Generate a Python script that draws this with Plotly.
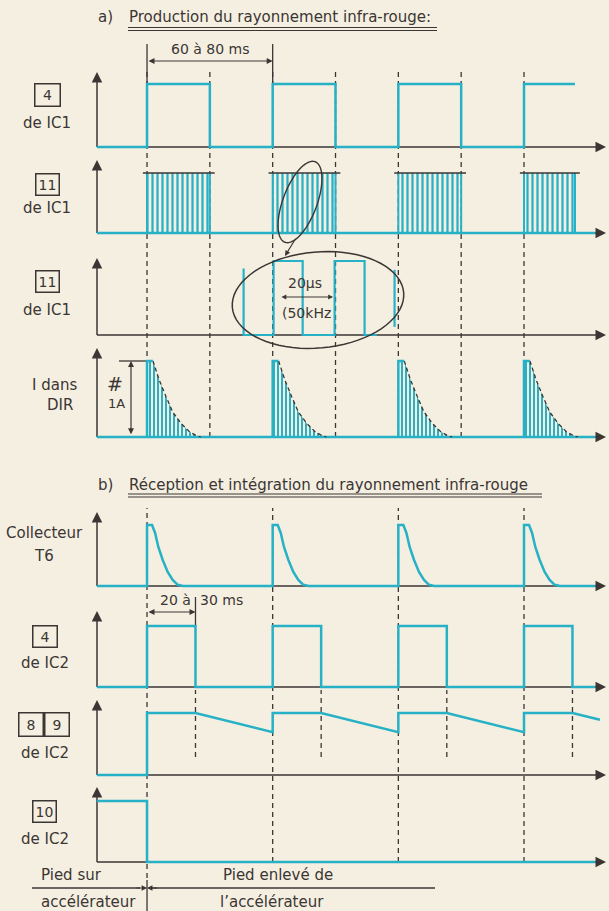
import numpy as np
import plotly.graph_objects as go

W, H = 609, 911
FOND = '#f5efe1'
CYAN = '#27b1c6'
ENCRE = '#3b3634'
POLICE = 'DejaVu Sans, Verdana, sans-serif'

# base de temps en ms (front montant de la broche 4 de IC1)
montees_ic1 = [0, 70, 140, 210]
descentes_ic1 = [35, 105, 175]
fin_ic1 = 238.4
t_debut = -27.9
t_fin = 249.6

# broche 4 de IC2 (monostable 20 a 30 ms)
montees_ic2 = [0, 70, 140, 210]
descentes_ic2 = [27, 97, 167, 237]

# broches 8/9 de IC2 : niveau atteint apres la decharge
niveau_89_bas = [0.69, 0.69, 0.69, 0.89]
t_fin_89 = 252.3

# impulsion du collecteur de T6 (decalage ms, niveau)
t6_decal = [0, 0, 2.8, 4.5, 6.3, 8.7, 11.5, 14.3, 17.1, 20]
t6_niveau = [0, 1, 1, 0.87, 0.64, 0.43, 0.23, 0.10, 0.02, 0]

# courant dans la DIR (enveloppe)
dir_decal = [0, 0, 3.3, 6.8, 10.6, 14.3, 18.9, 23.6, 27.3, 30]
dir_enveloppe = [0, 1, 1, 0.75, 0.53, 0.33, 0.18, 0.07, 0.02, 0]

# loupe 50 kHz (positions de dessin sur l'axe des temps)
loupe_x = [53.8, 53.8, 70.5, 70.5, 86.7, 86.7, 104.5, 104.5, 121.2, 121.2, 128.0]
loupe_y = [0.9, 0, 0, 1, 1, 0, 0, 1, 1, 0, 0]
loupe_bout_x = [137.9, 137.9]
loupe_bout_y = [0.11, 0.88]

# lignes : (base, niveau haut, pointe de la fleche) en pixels
LIGNES = [(147, 84, 72), (233, 173, 160), (335, 261, 258), (437, 361, 348),
          (586, 525, 512), (687, 626, 611), (775, 713, 700), (862, 801, 787)]

X_AXE, X_FLECHE = 97, 606
XMIN, XMAX = -81.9, 257.35


def px_t(px):
    return XMIN + px / W * (XMAX - XMIN)


def X(px):
    return px / W


def Y(py):
    return 1 - py / H


def carre(montees, descentes, t0, t1):
    xs, ys = [t0], [0]
    fronts = sorted([(t, 1) for t in montees] + [(t, 0) for t in descentes])
    niv = 0
    for t, n in fronts:
        xs += [t, t]
        ys += [niv, n]
        niv = n
    xs.append(t1)
    ys.append(niv)
    return xs, ys


def yref(i):
    return 'y' if i == 0 else f'y{i + 1}'


fig = go.Figure()


def trace(x, y, ligne, couleur=CYAN, largeur=2.5, dash='solid', **kw):
    fig.add_trace(go.Scatter(x=x, y=y, xaxis='x', yaxis=yref(ligne), mode='lines',
                             line=dict(color=couleur, width=largeur, dash=dash),
                             hoverinfo='skip', **kw))


# ligne 1 : broche 4 de IC1
x1, y1 = carre(montees_ic1, descentes_ic1, t_debut, fin_ic1)
trace(x1, y1, 0)

# ligne 2 : salves 50 kHz
trace([t_debut, t_fin], [0, 0], 1)
fins_salves = descentes_ic1 + [fin_ic1]
for d, f in zip(montees_ic1, fins_salves):
    fig.add_trace(go.Scatter(x=[d, d, f, f, d], y=[0, 1, 1, 0, 0], xaxis='x', yaxis='y2',
                             mode='lines', line=dict(width=0), fill='toself',
                             fillcolor='rgba(0,0,0,0)',
                             fillpattern=dict(shape='|', size=5, solidity=0.45,
                                              fgcolor=CYAN, bgcolor='rgba(0,0,0,0)',
                                              fillmode='replace'),
                             hoverinfo='skip'))
    trace([d, d, None, f, f], [0, 1, None, 1, 0], 1, largeur=2)
    trace([d - 2.3, f + 2.7], [1, 1], 1, couleur=ENCRE, largeur=1.4)

# ligne 3 : loupe
trace(loupe_x, loupe_y, 2, largeur=2.2)
trace(loupe_bout_x, loupe_bout_y, 2, largeur=2.2)

# ligne 4 : courant dans la DIR
trace([t_debut, t_fin], [0, 0], 3)
for d in montees_ic1:
    xs = [d + o for o in dir_decal]
    fig.add_trace(go.Scatter(x=xs, y=dir_enveloppe, xaxis='x', yaxis='y4', mode='lines',
                             line=dict(width=0), fill='toself', fillcolor='rgba(0,0,0,0)',
                             fillpattern=dict(shape='|', size=4, solidity=0.5,
                                              fgcolor=CYAN, bgcolor='rgba(0,0,0,0)',
                                              fillmode='replace'),
                             hoverinfo='skip'))
    trace(xs[2:], dir_enveloppe[2:], 3, couleur=ENCRE, largeur=1.3, dash='4px,3px')
    trace(xs[:3], dir_enveloppe[:3], 3)

# ligne 5 : collecteur T6
x5, y5 = [t_debut], [0]
for d in montees_ic2:
    x5 += [d + o for o in t6_decal]
    y5 += t6_niveau
x5.append(t_fin)
y5.append(0)
trace(x5, y5, 4)

# ligne 6 : broche 4 de IC2
x6, y6 = carre(montees_ic2, descentes_ic2, t_debut, t_fin)
trace(x6, y6, 5)

# ligne 7 : broches 8/9 de IC2
x7, y7 = [t_debut, 0], [0, 0]
for i, d in enumerate(montees_ic2):
    x7 += [d, descentes_ic2[i]]
    y7 += [1, 1]
    x7.append(montees_ic2[i + 1] if i < 3 else t_fin_89)
    y7.append(niveau_89_bas[i])
trace(x7, y7, 6)

# ligne 8 : broche 10 de IC2
trace([t_debut, 0, 0, t_fin], [1, 1, 0, 0], 7)

layout = dict(width=W, height=H, margin=dict(l=0, r=0, t=0, b=0),
              paper_bgcolor=FOND, plot_bgcolor='rgba(0,0,0,0)', showlegend=False,
              xaxis=dict(domain=[0, 1], range=[XMIN, XMAX], visible=False, fixedrange=True))
for i, (b, h, pointe) in enumerate(LIGNES):
    u = b - h
    nom = 'yaxis' if i == 0 else f'yaxis{i + 1}'
    layout[nom] = dict(domain=[Y(b + 6), Y(h - 16)], range=[-6 / u, 1 + 16 / u],
                       visible=False, anchor='x', fixedrange=True)
fig.update_layout(**layout)

formes = []
annots = []


def trait(x0, y0, x1, y1, largeur=1.5, dash='solid', ref='paper'):
    formes.append(dict(type='line', xref=ref, yref='paper', x0=x0, y0=y0, x1=x1, y1=y1,
                       layer='below', line=dict(color=ENCRE, width=largeur, dash=dash)))


def fleche(x, y, ax, ay, taille=1.1, largeur=1.5, **kw):
    annots.append(dict(x=x, y=y, ax=ax, ay=ay, text='', showarrow=True, arrowhead=2,
                       arrowsize=taille, arrowwidth=largeur, arrowcolor=ENCRE, **kw))


def texte(s, x, y, taille=15, ancre='center', **kw):
    annots.append(dict(x=X(x), y=Y(y), xref='paper', yref='paper', text=s, showarrow=False,
                       xanchor=ancre, yanchor='middle',
                       font=dict(family=POLICE, size=taille, color=ENCRE), **kw))


def boite(s, x, y, larg, haut):
    texte(s, x, y, 14, bordercolor=ENCRE, borderwidth=1.5, borderpad=1, width=larg, height=haut)


# axes
for b, h, pointe in LIGNES:
    trait(X(X_AXE), Y(b), X(X_FLECHE - 4), Y(b))
    trait(X(X_AXE), Y(b), X(X_AXE), Y(pointe + 4))
    fleche(X(X_FLECHE), Y(b), -10, 0, 1.4, xref='paper', yref='paper')
    fleche(X(X_AXE), Y(pointe), 0, 10, 1.4, xref='paper', yref='paper')

# pointilles verticaux
tirets = '5px,4px'
for t in sorted(montees_ic1 + descentes_ic1):
    trait(t, Y(437), t, Y(68), 1.3, tirets, 'x')
for t in montees_ic2:
    trait(t, Y(878 if t == 0 else 862), t, Y(508), 1.3, tirets, 'x')
for t in descentes_ic2:
    trait(t, Y(757), t, Y(690), 1.3, tirets, 'x')

# cotes
trait(0, Y(84), 0, Y(44), 1.3, ref='x')
trait(70, Y(84), 70, Y(44), 1.3, ref='x')
fleche(70, Y(61), 0, 0, 1.0, 1.2, xref='x', yref='paper', axref='x', ayref='pixel',
       arrowside='end+start')
texte('60 à 80 ms', 210, 49, 14)

trait(27, Y(626), 27, Y(597), 1.3, ref='x')
fleche(27, Y(612), 0, 0, 1.0, 1.2, xref='x', yref='paper', axref='x', ayref='pixel',
       arrowside='end+start')
texte('20 à', 193, 600, 14, ancre='right')
texte('30 ms', 198, 600, 14, ancre='left')

trait(px_t(119), Y(361), 0, Y(361), 1.3, ref='x')
fleche(px_t(131), 1, px_t(131), 0.015, 1.0, 1.2, xref='x', yref='y4',
       axref='x', ayref='y4', arrowside='end+start')
texte('#', 115, 384, 19)
texte('1A', 117, 403, 13)


# loupe : ellipses
def ellipse(cx, cy, a, b, phi):
    th = np.linspace(0, 2 * np.pi, 73)
    p = np.radians(phi)
    xs = cx + a * np.cos(th) * np.cos(p) - b * np.sin(th) * np.sin(p)
    ys = cy + a * np.cos(th) * np.sin(p) + b * np.sin(th) * np.cos(p)
    pts = [f'{X(x):.5f},{Y(y):.5f}' for x, y in zip(xs, ys)]
    return 'M' + 'L'.join(pts) + 'Z'


formes.append(dict(type='path', xref='paper', yref='paper', path=ellipse(318, 300, 86, 48, -5),
                   line=dict(color=ENCRE, width=1.5)))
formes.append(dict(type='path', xref='paper', yref='paper', path=ellipse(300, 202, 43, 17, -69.4),
                   line=dict(color=ENCRE, width=1.4)))
fleche(X(285), Y(256), 11, -18, 0.9, 1.2, xref='paper', yref='paper')
fleche(px_t(333), Y(297), px_t(280), 0, 0.8, 1.2, xref='x', yref='paper', axref='x',
       ayref='pixel', arrowside='end+start')
texte('20µs', 305, 283, 14)
texte('(50kHz', 306, 313, 14)

# titres
texte('a)', 96, 17, 15, ancre='left')
texte('Production du rayonnement infra-rouge:', 127, 17, 15, ancre='left')
for yy in (27.5, 30.5):
    trait(X(128), Y(yy), X(437), Y(yy), 1.1)
texte('b)', 96, 485, 15, ancre='left')
texte('Réception et intégration du rayonnement infra-rouge', 127, 485, 15, ancre='left')
for yy in (494, 497):
    trait(X(128), Y(yy), X(542), Y(yy), 1.1)

# etiquettes des lignes
boite('4', 47, 95, 22, 19)
texte('de IC1', 47, 123)
boite('11', 47.5, 184, 20, 18)
texte('de IC1', 47, 208)
boite('11', 47.5, 282, 20, 18)
texte('de IC1', 47, 310)
texte('I dans', 54, 385)
texte('DIR', 60, 405)
texte('Collecteur', 44, 533)
texte('T6', 44, 556)
boite('4', 45, 636, 21, 18)
texte('de IC2', 45, 663)
boite('8', 31, 724.5, 21, 20)
boite('9', 57, 724.5, 21, 20)
texte('de IC2', 45, 753)
boite('10', 44.5, 811.5, 20, 18)
texte('de IC2', 45, 839)

# pied sur / enleve
trait(0, Y(911), 0, Y(880), 1.3, ref='x')
trait(X(32), Y(888), X(140), Y(888), 1.3)
trait(X(152), Y(888), X(435), Y(888), 1.3)
fleche(0, Y(888), -12, 0, 0.9, 1.2, xref='x', yref='paper')
fleche(0, Y(888), 12, 0, 0.9, 1.2, xref='x', yref='paper')
texte('Pied sur', 71, 875)
texte('accélérateur', 88, 902)
texte('Pied enlevé de', 278, 875)
texte('l’accélérateur', 272, 902)

fig.update_layout(shapes=formes, annotations=annots)
fig.write_html('out.html', config={'displayModeBar': False},
               post_script="document.body.style.margin='0';"
               "document.body.style.overflow='hidden';"
               "document.body.style.background='" + FOND + "';")
